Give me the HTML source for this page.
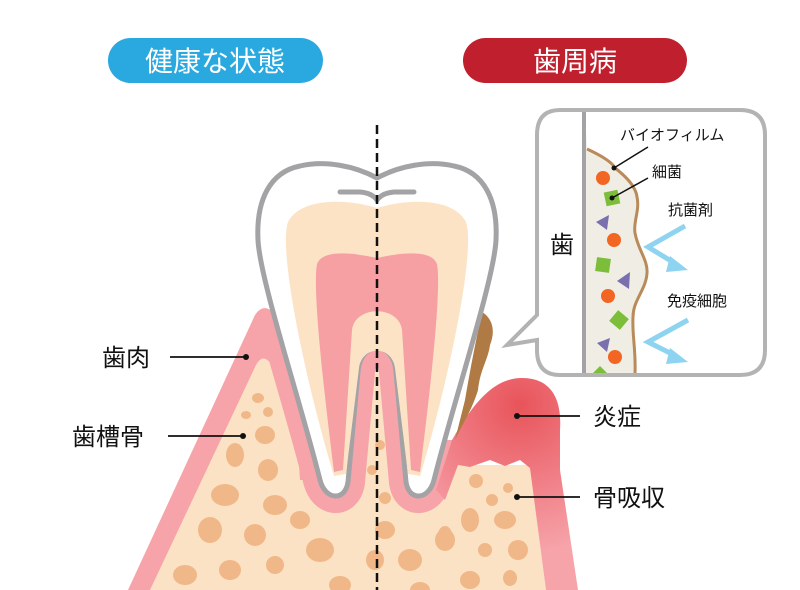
<!DOCTYPE html>
<html><head><meta charset="utf-8"><style>
html,body{margin:0;padding:0;background:#fff;}
svg{display:block;}
text{font-family:"Liberation Sans","Noto Sans CJK JP",sans-serif;}
</style></head><body>
<svg width="800" height="590" viewBox="0 0 800 590" xmlns="http://www.w3.org/2000/svg">
<defs>
<radialGradient id="inf" cx="520" cy="405" r="150" gradientUnits="userSpaceOnUse">
<stop offset="0" stop-color="#e8545a"/><stop offset="0.5" stop-color="#f07c84"/><stop offset="1" stop-color="#f6a4aa"/>
</radialGradient>
<clipPath id="low"><rect x="0" y="325" width="420" height="300"/><rect x="420" y="440" width="380" height="200"/></clipPath>
</defs>
<rect width="800" height="590" fill="#fff"/>
<!-- headers -->
<rect x="108" y="38" width="215" height="45" rx="22.5" fill="#2aa8e0"/>
<text x="215" y="71" font-size="28" fill="#fff" text-anchor="middle">健康な状態</text>
<rect x="463" y="38" width="224" height="45" rx="22.5" fill="#c0202e"/>
<text x="575" y="71" font-size="28" fill="#fff" text-anchor="middle">歯周病</text>

<!-- gum left triangle -->
<path d="M128,590 L255,315 Q265,300 278,318 L340,590Z" fill="#f6a4aa"/>
<!-- bone -->
<path d="M150,590 L256,365 Q263,352 272,365 L320,470 L377,370 L440,470 L458,465 L530,465 L546,590Z" fill="#fce2c4"/>
<!-- gum sleeve -->
<path clip-path="url(#low)" d="M377,178 C355,166 325,160 300,166 C270,172 256,200 258,240 C260,280 300,400 320,480 C325,500 345,502 348,482 L358,372 C360,340 394,340 396,372 L406,482 C409,502 429,500 434,480 C454,400 494,280 496,240 C498,200 484,172 454,166 C429,160 399,166 377,178Z" fill="none" stroke="#f6a4aa" stroke-width="34" stroke-linejoin="round"/>
<path d="M290,325 L300,400 L320,480 L300,480Z" fill="#f6a4aa"/>
<!-- bone spots -->
<g fill="#f0b888">
<ellipse cx="258" cy="398" rx="6" ry="5"/><ellipse cx="268" cy="412" rx="5" ry="5"/><ellipse cx="246" cy="415" rx="5" ry="4"/>
<ellipse cx="265" cy="435" rx="10" ry="9"/><ellipse cx="235" cy="455" rx="9" ry="12"/><ellipse cx="268" cy="470" rx="10" ry="11"/>
<ellipse cx="225" cy="495" rx="14" ry="11"/><ellipse cx="275" cy="505" rx="12" ry="10"/><ellipse cx="210" cy="530" rx="12" ry="13"/>
<ellipse cx="255" cy="535" rx="11" ry="11"/><ellipse cx="300" cy="520" rx="10" ry="9"/><ellipse cx="230" cy="570" rx="11" ry="10"/>
<ellipse cx="275" cy="565" rx="9" ry="9"/><ellipse cx="320" cy="550" rx="14" ry="12"/><ellipse cx="185" cy="575" rx="12" ry="10"/>
<ellipse cx="340" cy="585" rx="11" ry="9"/><ellipse cx="385" cy="530" rx="10" ry="9"/><ellipse cx="375" cy="560" rx="9" ry="10"/>
<ellipse cx="410" cy="560" rx="12" ry="11"/><ellipse cx="420" cy="590" rx="10" ry="8"/><ellipse cx="445" cy="540" rx="10" ry="11"/>
<ellipse cx="380" cy="445" rx="5" ry="5"/><ellipse cx="372" cy="470" rx="5" ry="5"/><ellipse cx="385" cy="498" rx="6" ry="6"/>
<ellipse cx="476" cy="481" rx="7" ry="7"/><ellipse cx="508" cy="488" rx="5" ry="5"/><ellipse cx="492" cy="500" rx="6" ry="6"/>
<ellipse cx="470" cy="520" rx="9" ry="12"/><ellipse cx="505" cy="520" rx="11" ry="9"/><ellipse cx="445" cy="535" rx="7" ry="9"/>
<ellipse cx="485" cy="550" rx="7" ry="7"/><ellipse cx="518" cy="550" rx="10" ry="10"/><ellipse cx="470" cy="580" rx="10" ry="9"/>
<ellipse cx="510" cy="578" rx="7" ry="8"/>
</g>
<!-- inflamed gum -->
<path d="M436,490 L452,440 C475,400 495,378 522,378 C552,378 562,400 560,430 L560,470 L578,590 L546,590 L530,468 L520,460 L505,466 L490,460 L470,467 L458,465 L445,500Z" fill="url(#inf)"/>
<!-- tartar -->
<path d="M482,312 C492,318 496,330 490,345 C488,360 480,370 478,390 C472,410 462,425 455,440 L465,400 C470,370 476,340 482,312Z" fill="#b07a45"/>
<!-- tooth -->
<path d="M377,178 C355,166 325,160 300,166 C270,172 256,200 258,240 C260,280 300,400 320,480 C325,500 345,502 348,482 L358,372 C360,340 394,340 396,372 L406,482 C409,502 429,500 434,480 C454,400 494,280 496,240 C498,200 484,172 454,166 C429,160 399,166 377,178Z" fill="#fff" stroke="#a3a3a6" stroke-width="5"/>
<path d="M377,208 C345,198 300,198 288,222 C278,250 305,380 334,476 L346,474 L359,368 C362,345 392,345 395,368 L408,474 L420,476 C449,380 476,250 466,222 C454,198 409,198 377,208Z" fill="#fde3c6"/>
<path d="M377,258 C350,252 322,250 317,264 C312,290 325,400 334,472 L343,470 L352,330 C355,305 399,305 402,330 L411,470 L420,472 C429,400 442,290 437,264 C432,250 404,252 377,258Z" fill="#f6a0a4"/>
<path d="M340,192 L360,192 Q372,193 377,200 Q382,193 394,192 L414,192" fill="none" stroke="#a3a3a6" stroke-width="5" stroke-linecap="round"/>
<!-- dashed line -->
<line x1="377" y1="125" x2="377" y2="590" stroke="#111" stroke-width="2.5" stroke-dasharray="9,5"/>

<!-- callout -->
<path d="M560,110 L740,110 Q765,110 765,135 L765,350 Q765,375 740,375 L560,375 Q537,375 537,350 L537,340 L507,345 L537,315 L537,135 Q537,110 560,110Z" fill="#fff" stroke="#b3b3b3" stroke-width="4"/>
<path d="M585,112 L587,149 C600,155 612,162 615,168 C628,178 636,188 637,197 C640,210 633,222 635,233 C638,250 648,260 647,273 C646,290 633,300 633,317 C632,335 636,350 635,373 L585,373Z" fill="#f0eee4"/>
<path d="M587,149 C600,155 612,162 615,168 C628,178 636,188 637,197 C640,210 633,222 635,233 C638,250 648,260 647,273 C646,290 633,300 633,317 C632,335 636,350 635,373" fill="none" stroke="#b98a5a" stroke-width="3"/>
<line x1="584" y1="112" x2="584" y2="373" stroke="#a3a3a6" stroke-width="4"/>
<text x="562" y="253" font-size="24" fill="#111" text-anchor="middle">歯</text>
<g fill="#f26522"><circle cx="603" cy="178" r="7"/><circle cx="614" cy="240" r="7"/><circle cx="608" cy="296" r="7"/><circle cx="615" cy="357" r="7"/></g>
<g fill="#7cbd3a">
<rect x="605" y="191" width="14" height="14" transform="rotate(-12 612 198)"/>
<rect x="596" y="258" width="14" height="14" transform="rotate(8 603 265)"/>
<rect x="612" y="313" width="14" height="14" transform="rotate(40 619 320)"/>
<path d="M593,373 L600,366 L607,373Z"/>
</g>
<g fill="#7a70b0"><path d="M596,222 L609,215 L607,230Z"/><path d="M617,281 L630,272 L629,289Z"/><path d="M597,343 L610,338 L607,352Z"/></g>
<line x1="614" y1="168" x2="648" y2="147" stroke="#111" stroke-width="1.5"/><circle cx="614" cy="168" r="2.5" fill="#111"/>
<line x1="612" y1="198" x2="648" y2="178" stroke="#111" stroke-width="1.5"/><circle cx="612" cy="198" r="2.5" fill="#111"/>
<text x="620" y="140" font-size="15" fill="#111">バイオフィルム</text>
<text x="652" y="177" font-size="15" fill="#111">細菌</text>
<text x="668" y="215" font-size="15" fill="#111">抗菌剤</text>
<text x="667" y="306" font-size="15" fill="#111">免疫細胞</text>
<g fill="none" stroke="#8ed4f0" stroke-width="5">
<path d="M685,226 L648,247 L676,264"/><path d="M688,320 L648,342 L676,356"/>
</g>
<g fill="#8ed4f0"><path d="M670,256 L688,270 L666,272Z"/><path d="M670,348 L688,362 L666,364Z"/></g>

<!-- labels -->
<text x="102" y="366" font-size="24" fill="#111">歯肉</text>
<line x1="170" y1="357" x2="246" y2="357" stroke="#111" stroke-width="1.8"/><circle cx="246" cy="357" r="3" fill="#111"/>
<text x="72" y="445" font-size="24" fill="#111">歯槽骨</text>
<line x1="168" y1="436" x2="243" y2="436" stroke="#111" stroke-width="1.8"/><circle cx="243" cy="436" r="3" fill="#111"/>
<text x="593" y="425" font-size="24" fill="#111">炎症</text>
<line x1="517" y1="416" x2="580" y2="416" stroke="#111" stroke-width="1.8"/><circle cx="517" cy="416" r="3" fill="#111"/>
<text x="593" y="506" font-size="24" fill="#111">骨吸収</text>
<line x1="517" y1="497" x2="580" y2="497" stroke="#111" stroke-width="1.8"/><circle cx="517" cy="497" r="3" fill="#111"/>
</svg>
</body></html>
